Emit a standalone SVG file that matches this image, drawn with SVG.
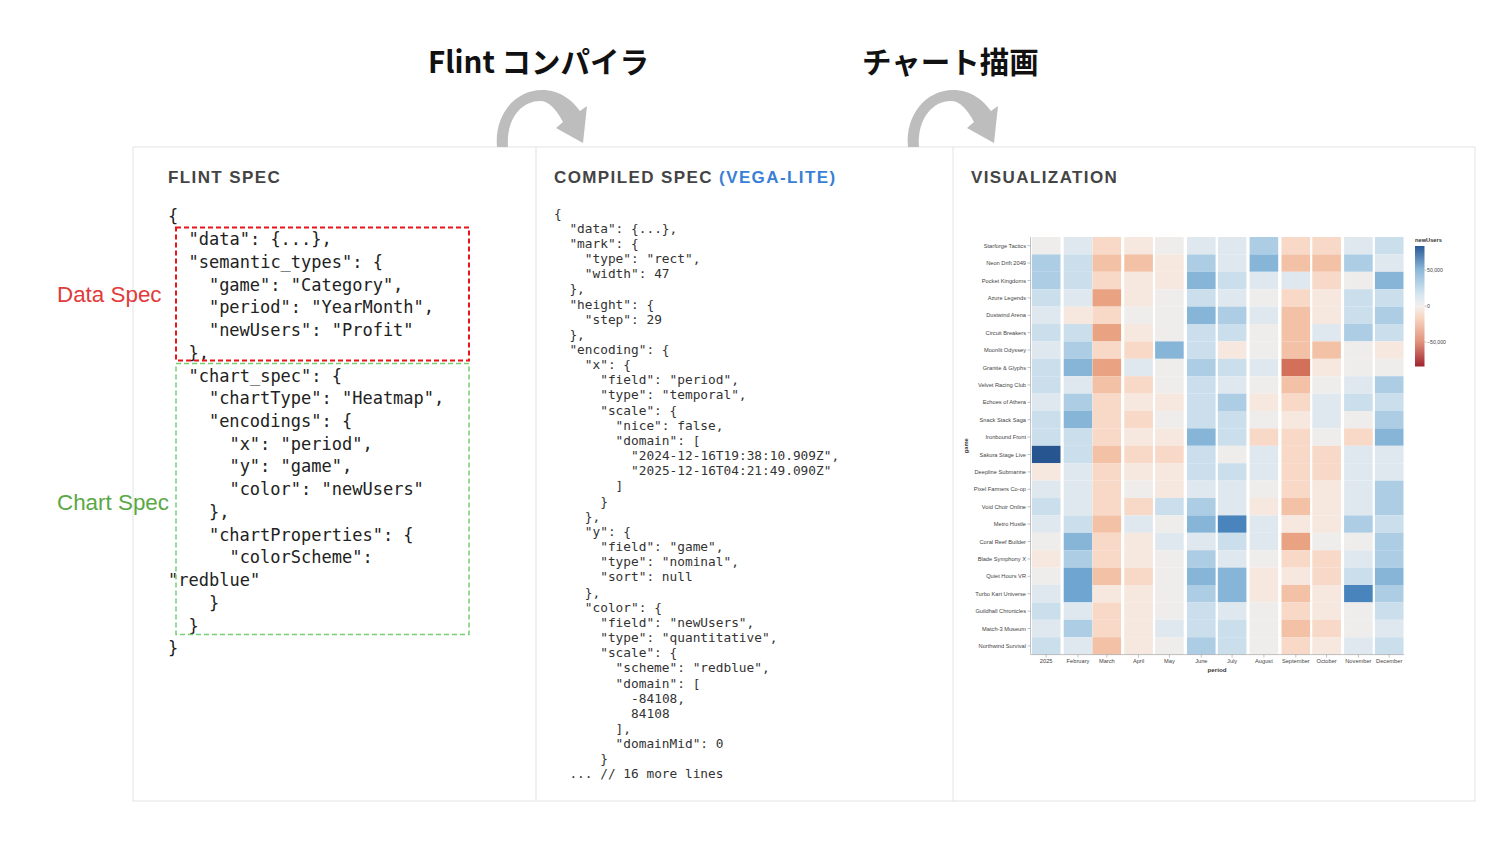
<svg xmlns="http://www.w3.org/2000/svg" width="1502" height="868" viewBox="0 0 1502 868">
<style>
.code{font-family:"DejaVu Sans Mono","Liberation Mono",monospace;}
.c17{font-size:17px;fill:#222;}
.c13{font-size:12.8px;fill:#333;}
.pt{font-family:"Liberation Sans",Arial,sans-serif;font-weight:bold;font-size:17px;letter-spacing:1.4px;fill:#444;}
.ttl{font-family:"Noto Sans CJK JP","Liberation Sans",sans-serif;font-weight:bold;font-size:29.5px;fill:#111;}
.side{font-family:"Liberation Sans",Arial,sans-serif;font-size:22.4px;}
.yl{font-family:"Liberation Sans",Arial,sans-serif;font-size:5.7px;fill:#444;text-anchor:end;}
.xl{font-family:"Liberation Sans",Arial,sans-serif;font-size:5.7px;fill:#444;text-anchor:middle;}
.ax{stroke:#999;stroke-width:0.6;fill:none;}
.arrow{fill:#bdbdbd;}
.b5{fill:#27558f}.b4{fill:#4a84bd}.b35{fill:#6ea6d1}.b3{fill:#86b5d8}.b2{fill:#adcde5}.b1{fill:#cbdeec}.b0{fill:#e0e8ef}
.n{fill:#efedec}.r0{fill:#f6e7df}.r1{fill:#f8d8c6}.r2{fill:#f2c1a6}.r3{fill:#e9a282}.r4{fill:#d3705a}
</style>
<defs>
<linearGradient id="lg" x1="0" y1="0" x2="0" y2="1">
<stop offset="0" stop-color="#2a5a98"/>
<stop offset="0.2" stop-color="#8db9d9"/>
<stop offset="0.4" stop-color="#d5e5f0"/>
<stop offset="0.5" stop-color="#f4f0ee"/>
<stop offset="0.6" stop-color="#f8d4c0"/>
<stop offset="0.8" stop-color="#e0907a"/>
<stop offset="1" stop-color="#a0232f"/>
</linearGradient>
<path id="curl" d="M497,147 C494,115 515,90 542,90 C560,90 572,100 580,111 L587,106 L583,143 L556,128 L563,122 C556,109 549,101 540,101 C522,101 506,118 508,147 Z"/>
</defs>
<rect width="1502" height="868" fill="#fff"/>

<g id="titles">
<text class="ttl" x="428" y="73">Flint コンパイラ</text>
<text class="ttl" x="862" y="73">チャート描画</text>
</g>

<g id="panels">
<rect x="133" y="147" width="1342" height="654" fill="#fff" stroke="#e3e3e3" stroke-width="1"/>
<line x1="536" y1="147" x2="536" y2="801" stroke="#e3e3e3"/>
<line x1="953" y1="147" x2="953" y2="801" stroke="#e3e3e3"/>
</g>

<g id="connectors">
<use href="#curl" class="arrow"/>
<use href="#curl" class="arrow" transform="translate(411,0)"/>
</g>

<g id="flint-spec">
<text class="pt" x="168" y="183">FLINT SPEC</text>
<g class="code c17">
<text x="168" y="222.3">{</text>
<text x="188.5" y="245">"data": {...},</text>
<text x="188.5" y="267.8">"semantic_types": {</text>
<text x="208.9" y="290.5">"game": "Category",</text>
<text x="208.9" y="313.3">"period": "YearMonth",</text>
<text x="208.9" y="336">"newUsers": "Profit"</text>
<text x="188.5" y="358.7">},</text>
<text x="188.5" y="381.5">"chart_spec": {</text>
<text x="208.9" y="404.2">"chartType": "Heatmap",</text>
<text x="208.9" y="427">"encodings": {</text>
<text x="229.4" y="449.7">"x": "period",</text>
<text x="229.4" y="472.4">"y": "game",</text>
<text x="229.4" y="495.2">"color": "newUsers"</text>
<text x="208.9" y="517.9">},</text>
<text x="208.9" y="540.7">"chartProperties": {</text>
<text x="229.4" y="563.4">"colorScheme":</text>
<text x="168" y="586.1">"redblue"</text>
<text x="208.9" y="608.9">}</text>
<text x="188.5" y="631.6">}</text>
<text x="168" y="654.4">}</text>
</g>
</g>

<g id="data-spec">
<rect x="176" y="227.5" width="293" height="133" fill="none" stroke="#e8141c" stroke-width="2" stroke-dasharray="5,3"/>
<text class="side" x="57" y="302" fill="#e03a3a">Data Spec</text>
</g>

<g id="chart-spec">
<rect x="176" y="363.5" width="293" height="271" fill="none" stroke="#72d172" stroke-width="1.5" stroke-dasharray="5,3"/>
<text class="side" x="57" y="510" fill="#5aa845">Chart Spec</text>
</g>

<g id="compiled-spec">
<text class="pt" x="554" y="183">COMPILED SPEC <tspan fill="#3a7fd6">(VEGA-LITE)</tspan></text>
<g class="code c13">
<text x="554" y="217.5">{</text>
<text x="569.4" y="232.7">"data": {...},</text>
<text x="569.4" y="247.8">"mark": {</text>
<text x="584.8" y="263">"type": "rect",</text>
<text x="584.8" y="278.1">"width": 47</text>
<text x="569.4" y="293.3">},</text>
<text x="569.4" y="308.5">"height": {</text>
<text x="584.8" y="323.6">"step": 29</text>
<text x="569.4" y="338.8">},</text>
<text x="569.4" y="353.9">"encoding": {</text>
<text x="584.8" y="369.1">"x": {</text>
<text x="600.2" y="384.3">"field": "period",</text>
<text x="600.2" y="399.4">"type": "temporal",</text>
<text x="600.2" y="414.6">"scale": {</text>
<text x="615.6" y="429.7">"nice": false,</text>
<text x="615.6" y="444.9">"domain": [</text>
<text x="631.1" y="460.1">"2024-12-16T19:38:10.909Z",</text>
<text x="631.1" y="475.2">"2025-12-16T04:21:49.090Z"</text>
<text x="615.6" y="490.4">]</text>
<text x="600.2" y="505.5">}</text>
<text x="584.8" y="520.7">},</text>
<text x="584.8" y="535.9">"y": {</text>
<text x="600.2" y="551">"field": "game",</text>
<text x="600.2" y="566.2">"type": "nominal",</text>
<text x="600.2" y="581.3">"sort": null</text>
<text x="584.8" y="596.5">},</text>
<text x="584.8" y="611.7">"color": {</text>
<text x="600.2" y="626.8">"field": "newUsers",</text>
<text x="600.2" y="642">"type": "quantitative",</text>
<text x="600.2" y="657.1">"scale": {</text>
<text x="615.6" y="672.3">"scheme": "redblue",</text>
<text x="615.6" y="687.5">"domain": [</text>
<text x="631.1" y="702.6">-84108,</text>
<text x="631.1" y="717.8">84108</text>
<text x="615.6" y="732.9">],</text>
<text x="615.6" y="748.1">"domainMid": 0</text>
<text x="600.2" y="763.3">}</text>
<text x="569.4" y="778.4">... // 16 more lines</text>
</g>
</g>

<g id="visualization">
<text class="pt" x="971" y="183">VISUALIZATION</text>
<g id="cells">
<g transform="translate(0,237)">
<rect class="n" x="1031.9" width="28.6" height="17.4"/><rect class="b0" x="1063.7" width="28.6" height="17.4"/><rect class="r1" x="1092.5" width="28.6" height="17.4"/><rect class="r0" x="1124.3" width="28.6" height="17.4"/><rect class="n" x="1155.1" width="28.6" height="17.4"/><rect class="b0" x="1187" width="28.6" height="17.4"/><rect class="b0" x="1217.8" width="28.6" height="17.4"/><rect class="b2" x="1249.6" width="28.6" height="17.4"/><rect class="r1" x="1281.5" width="28.6" height="17.4"/><rect class="r1" x="1312.3" width="28.6" height="17.4"/><rect class="b0" x="1344.1" width="28.6" height="17.4"/><rect class="b1" x="1374.9" width="28.6" height="17.4"/>
</g>
<g transform="translate(0,254.4)">
<rect class="b2" x="1031.9" width="28.6" height="17.4"/><rect class="b1" x="1063.7" width="28.6" height="17.4"/><rect class="r2" x="1092.5" width="28.6" height="17.4"/><rect class="r2" x="1124.3" width="28.6" height="17.4"/><rect class="r0" x="1155.1" width="28.6" height="17.4"/><rect class="b2" x="1187" width="28.6" height="17.4"/><rect class="b0" x="1217.8" width="28.6" height="17.4"/><rect class="b3" x="1249.6" width="28.6" height="17.4"/><rect class="r2" x="1281.5" width="28.6" height="17.4"/><rect class="r2" x="1312.3" width="28.6" height="17.4"/><rect class="b2" x="1344.1" width="28.6" height="17.4"/><rect class="b0" x="1374.9" width="28.6" height="17.4"/>
</g>
<g transform="translate(0,271.8)">
<rect class="b2" x="1031.9" width="28.6" height="17.4"/><rect class="b1" x="1063.7" width="28.6" height="17.4"/><rect class="r1" x="1092.5" width="28.6" height="17.4"/><rect class="r0" x="1124.3" width="28.6" height="17.4"/><rect class="r0" x="1155.1" width="28.6" height="17.4"/><rect class="b3" x="1187" width="28.6" height="17.4"/><rect class="b1" x="1217.8" width="28.6" height="17.4"/><rect class="b0" x="1249.6" width="28.6" height="17.4"/><rect class="b0" x="1281.5" width="28.6" height="17.4"/><rect class="r1" x="1312.3" width="28.6" height="17.4"/><rect class="n" x="1344.1" width="28.6" height="17.4"/><rect class="b3" x="1374.9" width="28.6" height="17.4"/>
</g>
<g transform="translate(0,289.2)">
<rect class="b1" x="1031.9" width="28.6" height="17.4"/><rect class="b0" x="1063.7" width="28.6" height="17.4"/><rect class="r3" x="1092.5" width="28.6" height="17.4"/><rect class="r0" x="1124.3" width="28.6" height="17.4"/><rect class="n" x="1155.1" width="28.6" height="17.4"/><rect class="b1" x="1187" width="28.6" height="17.4"/><rect class="b0" x="1217.8" width="28.6" height="17.4"/><rect class="n" x="1249.6" width="28.6" height="17.4"/><rect class="r1" x="1281.5" width="28.6" height="17.4"/><rect class="r0" x="1312.3" width="28.6" height="17.4"/><rect class="b1" x="1344.1" width="28.6" height="17.4"/><rect class="b1" x="1374.9" width="28.6" height="17.4"/>
</g>
<g transform="translate(0,306.6)">
<rect class="b0" x="1031.9" width="28.6" height="17.4"/><rect class="r0" x="1063.7" width="28.6" height="17.4"/><rect class="r1" x="1092.5" width="28.6" height="17.4"/><rect class="n" x="1124.3" width="28.6" height="17.4"/><rect class="n" x="1155.1" width="28.6" height="17.4"/><rect class="b3" x="1187" width="28.6" height="17.4"/><rect class="b2" x="1217.8" width="28.6" height="17.4"/><rect class="b0" x="1249.6" width="28.6" height="17.4"/><rect class="r2" x="1281.5" width="28.6" height="17.4"/><rect class="r0" x="1312.3" width="28.6" height="17.4"/><rect class="b1" x="1344.1" width="28.6" height="17.4"/><rect class="b2" x="1374.9" width="28.6" height="17.4"/>
</g>
<g transform="translate(0,324)">
<rect class="b1" x="1031.9" width="28.6" height="17.4"/><rect class="b1" x="1063.7" width="28.6" height="17.4"/><rect class="r3" x="1092.5" width="28.6" height="17.4"/><rect class="r0" x="1124.3" width="28.6" height="17.4"/><rect class="n" x="1155.1" width="28.6" height="17.4"/><rect class="b1" x="1187" width="28.6" height="17.4"/><rect class="b1" x="1217.8" width="28.6" height="17.4"/><rect class="n" x="1249.6" width="28.6" height="17.4"/><rect class="r2" x="1281.5" width="28.6" height="17.4"/><rect class="b0" x="1312.3" width="28.6" height="17.4"/><rect class="b2" x="1344.1" width="28.6" height="17.4"/><rect class="b1" x="1374.9" width="28.6" height="17.4"/>
</g>
<g transform="translate(0,341.4)">
<rect class="b0" x="1031.9" width="28.6" height="17.4"/><rect class="b2" x="1063.7" width="28.6" height="17.4"/><rect class="r1" x="1092.5" width="28.6" height="17.4"/><rect class="r1" x="1124.3" width="28.6" height="17.4"/><rect class="b3" x="1155.1" width="28.6" height="17.4"/><rect class="b1" x="1187" width="28.6" height="17.4"/><rect class="r0" x="1217.8" width="28.6" height="17.4"/><rect class="n" x="1249.6" width="28.6" height="17.4"/><rect class="r2" x="1281.5" width="28.6" height="17.4"/><rect class="r2" x="1312.3" width="28.6" height="17.4"/><rect class="n" x="1344.1" width="28.6" height="17.4"/><rect class="r0" x="1374.9" width="28.6" height="17.4"/>
</g>
<g transform="translate(0,358.8)">
<rect class="b1" x="1031.9" width="28.6" height="17.4"/><rect class="b3" x="1063.7" width="28.6" height="17.4"/><rect class="r3" x="1092.5" width="28.6" height="17.4"/><rect class="b0" x="1124.3" width="28.6" height="17.4"/><rect class="n" x="1155.1" width="28.6" height="17.4"/><rect class="b2" x="1187" width="28.6" height="17.4"/><rect class="b1" x="1217.8" width="28.6" height="17.4"/><rect class="b0" x="1249.6" width="28.6" height="17.4"/><rect class="r4" x="1281.5" width="28.6" height="17.4"/><rect class="r0" x="1312.3" width="28.6" height="17.4"/><rect class="n" x="1344.1" width="28.6" height="17.4"/><rect class="n" x="1374.9" width="28.6" height="17.4"/>
</g>
<g transform="translate(0,376.2)">
<rect class="b1" x="1031.9" width="28.6" height="17.4"/><rect class="b0" x="1063.7" width="28.6" height="17.4"/><rect class="r2" x="1092.5" width="28.6" height="17.4"/><rect class="r1" x="1124.3" width="28.6" height="17.4"/><rect class="n" x="1155.1" width="28.6" height="17.4"/><rect class="b1" x="1187" width="28.6" height="17.4"/><rect class="b0" x="1217.8" width="28.6" height="17.4"/><rect class="n" x="1249.6" width="28.6" height="17.4"/><rect class="r2" x="1281.5" width="28.6" height="17.4"/><rect class="n" x="1312.3" width="28.6" height="17.4"/><rect class="b0" x="1344.1" width="28.6" height="17.4"/><rect class="b2" x="1374.9" width="28.6" height="17.4"/>
</g>
<g transform="translate(0,393.6)">
<rect class="b0" x="1031.9" width="28.6" height="17.4"/><rect class="b2" x="1063.7" width="28.6" height="17.4"/><rect class="r1" x="1092.5" width="28.6" height="17.4"/><rect class="r0" x="1124.3" width="28.6" height="17.4"/><rect class="r0" x="1155.1" width="28.6" height="17.4"/><rect class="b1" x="1187" width="28.6" height="17.4"/><rect class="b2" x="1217.8" width="28.6" height="17.4"/><rect class="r0" x="1249.6" width="28.6" height="17.4"/><rect class="r1" x="1281.5" width="28.6" height="17.4"/><rect class="b0" x="1312.3" width="28.6" height="17.4"/><rect class="b1" x="1344.1" width="28.6" height="17.4"/><rect class="b1" x="1374.9" width="28.6" height="17.4"/>
</g>
<g transform="translate(0,411)">
<rect class="b1" x="1031.9" width="28.6" height="17.4"/><rect class="b3" x="1063.7" width="28.6" height="17.4"/><rect class="r1" x="1092.5" width="28.6" height="17.4"/><rect class="r1" x="1124.3" width="28.6" height="17.4"/><rect class="n" x="1155.1" width="28.6" height="17.4"/><rect class="b1" x="1187" width="28.6" height="17.4"/><rect class="b1" x="1217.8" width="28.6" height="17.4"/><rect class="n" x="1249.6" width="28.6" height="17.4"/><rect class="r0" x="1281.5" width="28.6" height="17.4"/><rect class="b0" x="1312.3" width="28.6" height="17.4"/><rect class="n" x="1344.1" width="28.6" height="17.4"/><rect class="b2" x="1374.9" width="28.6" height="17.4"/>
</g>
<g transform="translate(0,428.4)">
<rect class="b1" x="1031.9" width="28.6" height="17.4"/><rect class="b1" x="1063.7" width="28.6" height="17.4"/><rect class="r1" x="1092.5" width="28.6" height="17.4"/><rect class="r0" x="1124.3" width="28.6" height="17.4"/><rect class="r0" x="1155.1" width="28.6" height="17.4"/><rect class="b3" x="1187" width="28.6" height="17.4"/><rect class="b1" x="1217.8" width="28.6" height="17.4"/><rect class="r1" x="1249.6" width="28.6" height="17.4"/><rect class="r1" x="1281.5" width="28.6" height="17.4"/><rect class="n" x="1312.3" width="28.6" height="17.4"/><rect class="r1" x="1344.1" width="28.6" height="17.4"/><rect class="b3" x="1374.9" width="28.6" height="17.4"/>
</g>
<g transform="translate(0,445.8)">
<rect class="b5" x="1031.9" width="28.6" height="17.4"/><rect class="b1" x="1063.7" width="28.6" height="17.4"/><rect class="r2" x="1092.5" width="28.6" height="17.4"/><rect class="r1" x="1124.3" width="28.6" height="17.4"/><rect class="r1" x="1155.1" width="28.6" height="17.4"/><rect class="b1" x="1187" width="28.6" height="17.4"/><rect class="n" x="1217.8" width="28.6" height="17.4"/><rect class="b0" x="1249.6" width="28.6" height="17.4"/><rect class="r1" x="1281.5" width="28.6" height="17.4"/><rect class="r1" x="1312.3" width="28.6" height="17.4"/><rect class="b0" x="1344.1" width="28.6" height="17.4"/><rect class="b0" x="1374.9" width="28.6" height="17.4"/>
</g>
<g transform="translate(0,463.2)">
<rect class="r0" x="1031.9" width="28.6" height="17.4"/><rect class="b0" x="1063.7" width="28.6" height="17.4"/><rect class="r1" x="1092.5" width="28.6" height="17.4"/><rect class="r0" x="1124.3" width="28.6" height="17.4"/><rect class="r0" x="1155.1" width="28.6" height="17.4"/><rect class="b1" x="1187" width="28.6" height="17.4"/><rect class="b1" x="1217.8" width="28.6" height="17.4"/><rect class="b0" x="1249.6" width="28.6" height="17.4"/><rect class="r1" x="1281.5" width="28.6" height="17.4"/><rect class="r1" x="1312.3" width="28.6" height="17.4"/><rect class="b0" x="1344.1" width="28.6" height="17.4"/><rect class="b0" x="1374.9" width="28.6" height="17.4"/>
</g>
<g transform="translate(0,480.6)">
<rect class="b0" x="1031.9" width="28.6" height="17.4"/><rect class="b0" x="1063.7" width="28.6" height="17.4"/><rect class="r1" x="1092.5" width="28.6" height="17.4"/><rect class="n" x="1124.3" width="28.6" height="17.4"/><rect class="r0" x="1155.1" width="28.6" height="17.4"/><rect class="b0" x="1187" width="28.6" height="17.4"/><rect class="b0" x="1217.8" width="28.6" height="17.4"/><rect class="n" x="1249.6" width="28.6" height="17.4"/><rect class="r1" x="1281.5" width="28.6" height="17.4"/><rect class="r0" x="1312.3" width="28.6" height="17.4"/><rect class="b0" x="1344.1" width="28.6" height="17.4"/><rect class="b2" x="1374.9" width="28.6" height="17.4"/>
</g>
<g transform="translate(0,498)">
<rect class="b1" x="1031.9" width="28.6" height="17.4"/><rect class="b0" x="1063.7" width="28.6" height="17.4"/><rect class="r1" x="1092.5" width="28.6" height="17.4"/><rect class="r1" x="1124.3" width="28.6" height="17.4"/><rect class="b1" x="1155.1" width="28.6" height="17.4"/><rect class="b2" x="1187" width="28.6" height="17.4"/><rect class="b0" x="1217.8" width="28.6" height="17.4"/><rect class="r0" x="1249.6" width="28.6" height="17.4"/><rect class="r2" x="1281.5" width="28.6" height="17.4"/><rect class="r0" x="1312.3" width="28.6" height="17.4"/><rect class="b0" x="1344.1" width="28.6" height="17.4"/><rect class="b2" x="1374.9" width="28.6" height="17.4"/>
</g>
<g transform="translate(0,515.4)">
<rect class="b0" x="1031.9" width="28.6" height="17.4"/><rect class="b1" x="1063.7" width="28.6" height="17.4"/><rect class="r2" x="1092.5" width="28.6" height="17.4"/><rect class="b0" x="1124.3" width="28.6" height="17.4"/><rect class="n" x="1155.1" width="28.6" height="17.4"/><rect class="b3" x="1187" width="28.6" height="17.4"/><rect class="b4" x="1217.8" width="28.6" height="17.4"/><rect class="b0" x="1249.6" width="28.6" height="17.4"/><rect class="r0" x="1281.5" width="28.6" height="17.4"/><rect class="r0" x="1312.3" width="28.6" height="17.4"/><rect class="b2" x="1344.1" width="28.6" height="17.4"/><rect class="b1" x="1374.9" width="28.6" height="17.4"/>
</g>
<g transform="translate(0,532.8)">
<rect class="n" x="1031.9" width="28.6" height="17.4"/><rect class="b3" x="1063.7" width="28.6" height="17.4"/><rect class="r1" x="1092.5" width="28.6" height="17.4"/><rect class="r0" x="1124.3" width="28.6" height="17.4"/><rect class="b0" x="1155.1" width="28.6" height="17.4"/><rect class="b0" x="1187" width="28.6" height="17.4"/><rect class="b1" x="1217.8" width="28.6" height="17.4"/><rect class="b0" x="1249.6" width="28.6" height="17.4"/><rect class="r3" x="1281.5" width="28.6" height="17.4"/><rect class="n" x="1312.3" width="28.6" height="17.4"/><rect class="n" x="1344.1" width="28.6" height="17.4"/><rect class="b2" x="1374.9" width="28.6" height="17.4"/>
</g>
<g transform="translate(0,550.2)">
<rect class="r0" x="1031.9" width="28.6" height="17.4"/><rect class="b2" x="1063.7" width="28.6" height="17.4"/><rect class="r1" x="1092.5" width="28.6" height="17.4"/><rect class="r0" x="1124.3" width="28.6" height="17.4"/><rect class="n" x="1155.1" width="28.6" height="17.4"/><rect class="b2" x="1187" width="28.6" height="17.4"/><rect class="b0" x="1217.8" width="28.6" height="17.4"/><rect class="n" x="1249.6" width="28.6" height="17.4"/><rect class="r1" x="1281.5" width="28.6" height="17.4"/><rect class="r1" x="1312.3" width="28.6" height="17.4"/><rect class="b0" x="1344.1" width="28.6" height="17.4"/><rect class="b2" x="1374.9" width="28.6" height="17.4"/>
</g>
<g transform="translate(0,567.6)">
<rect class="n" x="1031.9" width="28.6" height="17.4"/><rect class="b35" x="1063.7" width="28.6" height="17.4"/><rect class="r2" x="1092.5" width="28.6" height="17.4"/><rect class="r1" x="1124.3" width="28.6" height="17.4"/><rect class="n" x="1155.1" width="28.6" height="17.4"/><rect class="b3" x="1187" width="28.6" height="17.4"/><rect class="b3" x="1217.8" width="28.6" height="17.4"/><rect class="r0" x="1249.6" width="28.6" height="17.4"/><rect class="r0" x="1281.5" width="28.6" height="17.4"/><rect class="r1" x="1312.3" width="28.6" height="17.4"/><rect class="b1" x="1344.1" width="28.6" height="17.4"/><rect class="b3" x="1374.9" width="28.6" height="17.4"/>
</g>
<g transform="translate(0,585)">
<rect class="b0" x="1031.9" width="28.6" height="17.4"/><rect class="b35" x="1063.7" width="28.6" height="17.4"/><rect class="r0" x="1092.5" width="28.6" height="17.4"/><rect class="r0" x="1124.3" width="28.6" height="17.4"/><rect class="n" x="1155.1" width="28.6" height="17.4"/><rect class="b2" x="1187" width="28.6" height="17.4"/><rect class="b3" x="1217.8" width="28.6" height="17.4"/><rect class="r0" x="1249.6" width="28.6" height="17.4"/><rect class="r2" x="1281.5" width="28.6" height="17.4"/><rect class="r0" x="1312.3" width="28.6" height="17.4"/><rect class="b4" x="1344.1" width="28.6" height="17.4"/><rect class="b2" x="1374.9" width="28.6" height="17.4"/>
</g>
<g transform="translate(0,602.4)">
<rect class="b1" x="1031.9" width="28.6" height="17.4"/><rect class="b0" x="1063.7" width="28.6" height="17.4"/><rect class="r1" x="1092.5" width="28.6" height="17.4"/><rect class="r0" x="1124.3" width="28.6" height="17.4"/><rect class="n" x="1155.1" width="28.6" height="17.4"/><rect class="b1" x="1187" width="28.6" height="17.4"/><rect class="b0" x="1217.8" width="28.6" height="17.4"/><rect class="n" x="1249.6" width="28.6" height="17.4"/><rect class="r1" x="1281.5" width="28.6" height="17.4"/><rect class="r0" x="1312.3" width="28.6" height="17.4"/><rect class="n" x="1344.1" width="28.6" height="17.4"/><rect class="b1" x="1374.9" width="28.6" height="17.4"/>
</g>
<g transform="translate(0,619.8)">
<rect class="b0" x="1031.9" width="28.6" height="17.4"/><rect class="b2" x="1063.7" width="28.6" height="17.4"/><rect class="r1" x="1092.5" width="28.6" height="17.4"/><rect class="r0" x="1124.3" width="28.6" height="17.4"/><rect class="b0" x="1155.1" width="28.6" height="17.4"/><rect class="b1" x="1187" width="28.6" height="17.4"/><rect class="b1" x="1217.8" width="28.6" height="17.4"/><rect class="n" x="1249.6" width="28.6" height="17.4"/><rect class="r2" x="1281.5" width="28.6" height="17.4"/><rect class="r1" x="1312.3" width="28.6" height="17.4"/><rect class="n" x="1344.1" width="28.6" height="17.4"/><rect class="b0" x="1374.9" width="28.6" height="17.4"/>
</g>
<g transform="translate(0,637.2)">
<rect class="b1" x="1031.9" width="28.6" height="17.4"/><rect class="b0" x="1063.7" width="28.6" height="17.4"/><rect class="r2" x="1092.5" width="28.6" height="17.4"/><rect class="r0" x="1124.3" width="28.6" height="17.4"/><rect class="n" x="1155.1" width="28.6" height="17.4"/><rect class="b2" x="1187" width="28.6" height="17.4"/><rect class="b1" x="1217.8" width="28.6" height="17.4"/><rect class="n" x="1249.6" width="28.6" height="17.4"/><rect class="r1" x="1281.5" width="28.6" height="17.4"/><rect class="r0" x="1312.3" width="28.6" height="17.4"/><rect class="b0" x="1344.1" width="28.6" height="17.4"/><rect class="b1" x="1374.9" width="28.6" height="17.4"/>
</g>
</g>

<g id="y-axis">
<path class="ax" d="M1030.5,237V654.6M1027.5,245.7H1030.5M1027.5,263.1H1030.5M1027.5,280.5H1030.5M1027.5,297.9H1030.5M1027.5,315.3H1030.5M1027.5,332.7H1030.5M1027.5,350.1H1030.5M1027.5,367.5H1030.5M1027.5,384.9H1030.5M1027.5,402.3H1030.5M1027.5,419.7H1030.5M1027.5,437.1H1030.5M1027.5,454.5H1030.5M1027.5,471.9H1030.5M1027.5,489.3H1030.5M1027.5,506.7H1030.5M1027.5,524.1H1030.5M1027.5,541.5H1030.5M1027.5,558.9H1030.5M1027.5,576.3H1030.5M1027.5,593.7H1030.5M1027.5,611.1H1030.5M1027.5,628.5H1030.5M1027.5,645.9H1030.5"/>
<text class="yl" x="1026" y="247.7">Starforge Tactics</text>
<text class="yl" x="1026" y="265.1">Neon Drift 2049</text>
<text class="yl" x="1026" y="282.5">Pocket Kingdoms</text>
<text class="yl" x="1026" y="299.9">Azure Legends</text>
<text class="yl" x="1026" y="317.3">Dustwind Arena</text>
<text class="yl" x="1026" y="334.7">Circuit Breakers</text>
<text class="yl" x="1026" y="352.1">Moonlit Odyssey</text>
<text class="yl" x="1026" y="369.5">Granite &amp; Glyphs</text>
<text class="yl" x="1026" y="386.9">Velvet Racing Club</text>
<text class="yl" x="1026" y="404.3">Echoes of Athera</text>
<text class="yl" x="1026" y="421.7">Snack Stack Saga</text>
<text class="yl" x="1026" y="439.1">Ironbound Front</text>
<text class="yl" x="1026" y="456.5">Sakura Stage Live</text>
<text class="yl" x="1026" y="473.9">Deepline Submarine</text>
<text class="yl" x="1026" y="491.3">Pixel Farmers Co-op</text>
<text class="yl" x="1026" y="508.7">Void Choir Online</text>
<text class="yl" x="1026" y="526.1">Metro Hustle</text>
<text class="yl" x="1026" y="543.5">Coral Reef Builder</text>
<text class="yl" x="1026" y="560.9">Blade Symphony X</text>
<text class="yl" x="1026" y="578.3">Quiet Hours VR</text>
<text class="yl" x="1026" y="595.7">Turbo Kart Universe</text>
<text class="yl" x="1026" y="613.1">Guildhall Chronicles</text>
<text class="yl" x="1026" y="630.5">Match-3 Museum</text>
<text class="yl" x="1026" y="647.9">Northwind Survival</text>
<text font-family="Liberation Sans, Arial, sans-serif" font-size="5.7" font-weight="bold" fill="#333" text-anchor="middle" transform="translate(968,445.8) rotate(-90)">game</text>
</g>

<g id="x-axis">
<path class="ax" d="M1030.5,654.6H1404M1046.2,654.6V657.6M1078,654.6V657.6M1106.8,654.6V657.6M1138.6,654.6V657.6M1169.4,654.6V657.6M1201.3,654.6V657.6M1232.1,654.6V657.6M1263.9,654.6V657.6M1295.8,654.6V657.6M1326.6,654.6V657.6M1358.4,654.6V657.6M1389.2,654.6V657.6"/>
<text class="xl" x="1046.2" y="663">2025</text>
<text class="xl" x="1078" y="663">February</text>
<text class="xl" x="1106.8" y="663">March</text>
<text class="xl" x="1138.6" y="663">April</text>
<text class="xl" x="1169.4" y="663">May</text>
<text class="xl" x="1201.3" y="663">June</text>
<text class="xl" x="1232.1" y="663">July</text>
<text class="xl" x="1263.9" y="663">August</text>
<text class="xl" x="1295.8" y="663">September</text>
<text class="xl" x="1326.6" y="663">October</text>
<text class="xl" x="1358.4" y="663">November</text>
<text class="xl" x="1389.2" y="663">December</text>
<text font-family="Liberation Sans, Arial, sans-serif" font-size="6.2" font-weight="bold" fill="#333" text-anchor="middle" x="1217" y="672">period</text>
</g>

<g id="legend">
<text font-family="Liberation Sans, Arial, sans-serif" font-size="5.7" font-weight="bold" fill="#333" x="1415" y="242">newUsers</text>
<rect x="1415" y="246" width="9.5" height="120.5" fill="url(#lg)"/>
<path class="ax" d="M1424.5,270.3H1426.5M1424.5,306.2H1426.5M1424.5,342H1426.5"/>
<text font-family="Liberation Sans, Arial, sans-serif" font-size="5.2" fill="#444" x="1427" y="272">50,000</text>
<text font-family="Liberation Sans, Arial, sans-serif" font-size="5.2" fill="#444" x="1427" y="308">0</text>
<text font-family="Liberation Sans, Arial, sans-serif" font-size="5.2" fill="#444" x="1427" y="343.8">−50,000</text>
</g>
</g>
</svg>
